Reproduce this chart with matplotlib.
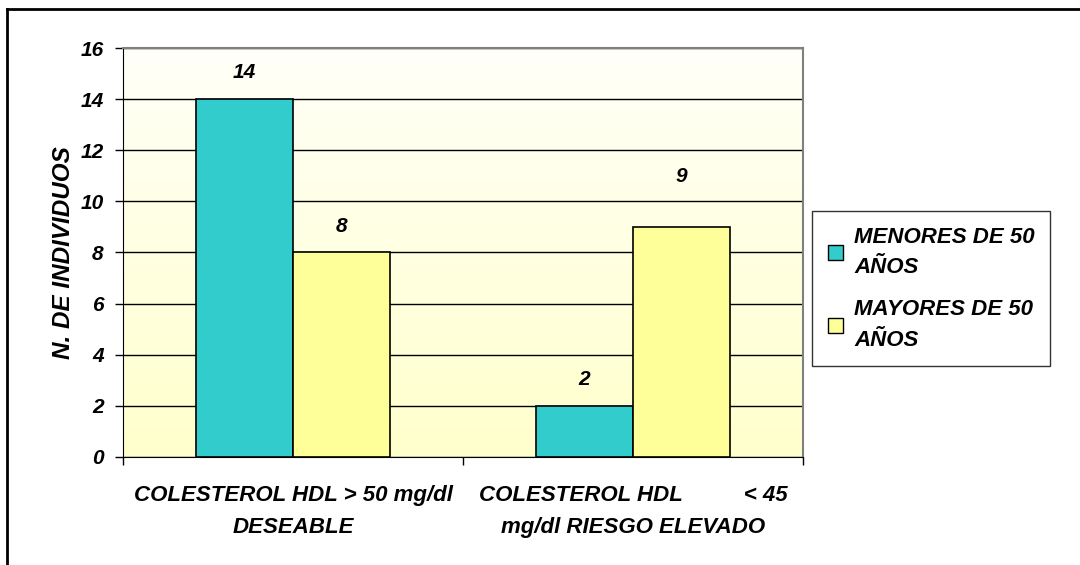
import numpy as np
import matplotlib.pyplot as plt
from matplotlib.lines import Line2D
from matplotlib.patches import Patch

# Data
categories = ["COLESTEROL HDL > 50 mg/dl\nDESEABLE",
              "COLESTEROL HDL          < 45\nmg/dl RIESGO ELEVADO"]
series_names = ["MENORES DE 50\nAÑOS", "MAYORES DE 50\nAÑOS"]
menores = [14, 2]
mayores = [8, 9]
y_ticks = [0, 2, 4, 6, 8, 10, 12, 14, 16]

teal = "#33CCCC"
yellow = "#FFFF99"
font = dict(family="Liberation Sans", weight="bold", style="italic")

fig = plt.figure(figsize=(10.8, 5.65), dpi=100)
ax = fig.add_axes([0.1139, 0.1912, 0.6296, 0.7238])

# gradient background
grad = np.linspace(0, 1, 256).reshape(-1, 1)
top_c = np.array([1.0, 1.0, 0.975])
bot_c = np.array([1.0, 1.0, 0.80])
img = top_c * (1 - grad[..., None]) + bot_c * grad[..., None]
ax.imshow(img, extent=[-0.5, 1.5, 0, 16], aspect="auto", zorder=0, origin="upper")

x = np.arange(len(categories))
w = 0.285
b1 = ax.bar(x - w / 2, menores, w, color=teal, edgecolor="black", linewidth=1.2, zorder=3)
b2 = ax.bar(x + w / 2, mayores, w, color=yellow, edgecolor="black", linewidth=1.2, zorder=3)

# label offsets in points (the "9" sits higher in the original)
off_menores = [19, 19]
off_mayores = [19, 36]
for bars, vals, offs in [(b1, menores, off_menores), (b2, mayores, off_mayores)]:
    for r, v, off in zip(bars, vals, offs):
        ax.annotate(str(v), (r.get_x() + r.get_width() / 2, v), xytext=(0, off),
                    textcoords="offset points", ha="center", va="center",
                    fontsize=15, **font)

ax.set_xlim(-0.5, 1.5)
ax.set_ylim(0, 16)
ax.set_yticks(y_ticks)
ax.set_yticklabels([str(t) for t in y_ticks], fontsize=15, **font)
ax.yaxis.grid(True, color="black", linewidth=1.0, zorder=1)
ax.set_axisbelow(True)
ax.tick_params(axis="y", length=6, width=1, direction="out", pad=8)

ax.set_xticks(x)
ax.set_xticklabels(categories, fontsize=16, linespacing=1.7, **font)
ax.set_xticks([-0.5, 0.5, 1.5], minor=True)
ax.tick_params(axis="x", which="major", length=0, pad=20)
ax.tick_params(axis="x", which="minor", length=6, width=1, direction="out")

ax.spines["top"].set_color("#808080")
ax.spines["right"].set_color("#808080")
ax.spines["top"].set_linewidth(1.5)
ax.spines["right"].set_linewidth(1.5)
ax.spines["left"].set_color("black")
ax.spines["bottom"].set_color("black")

ax.set_ylabel("N. DE INDIVIDUOS", fontsize=17.5, labelpad=4, **font)

# legend
handles = [Patch(facecolor=teal, edgecolor="black"),
           Patch(facecolor=yellow, edgecolor="black")]
leg = fig.legend(handles, series_names, loc="upper left",
                 bbox_to_anchor=(812 / 1080, 1 - 211 / 565),
                 prop=dict(size=16, **font), frameon=True, fancybox=False,
                 handlelength=0.7, handleheight=0.7, handletextpad=0.5,
                 labelspacing=0.95, borderpad=0.7, borderaxespad=0)
for t in leg.get_texts():
    t.set_linespacing(1.6)
leg.get_frame().set_edgecolor("black")
leg.get_frame().set_linewidth(1.0)

# figure border (top and left visible)
fig.add_artist(Line2D([7 / 1080, 7 / 1080], [0, 1 - 9 / 565], color="black", linewidth=2))
fig.add_artist(Line2D([7 / 1080, 1], [1 - 9 / 565, 1 - 9 / 565], color="black", linewidth=2))

plt.savefig("out.png", dpi=100)
